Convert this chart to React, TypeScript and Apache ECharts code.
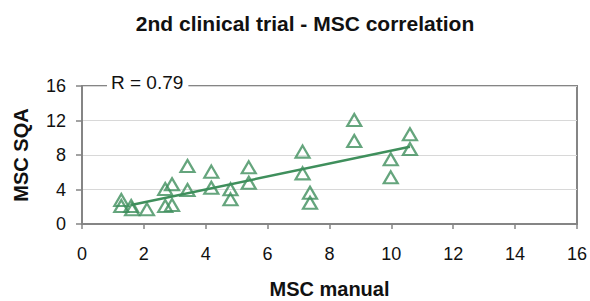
import React, { useEffect, useRef } from "react";
import * as echarts from "echarts";

const titleText = "2nd clinical trial - MSC correlation";
const xName = "MSC manual";
const yName = "MSC SQA";
const rLabel = "R = 0.79";

const mscManual = [1.27, 1.27, 1.59, 1.62, 2.1, 2.69, 2.69, 2.91, 2.91, 3.41, 3.41, 4.18, 4.18, 4.8, 4.8, 5.39, 5.39, 7.13, 7.13, 7.37, 7.37, 8.8, 8.8, 9.98, 9.98, 10.6, 10.6];
const mscSqa = [2.78, 2.09, 2.09, 1.7, 1.7, 4.06, 2.09, 4.6, 2.2, 6.72, 3.94, 6.07, 4.21, 4.02, 2.86, 6.57, 4.79, 8.39, 5.87, 3.63, 2.47, 12.06, 9.62, 7.5, 5.41, 10.4, 8.7];

const trendX = [1.59, 10.6];
const trendY = [2.2, 8.96];

const green = "#3f8f5c";

export default function App() {
  const ref = useRef<HTMLDivElement>(null);
  useEffect(() => {
    if (!ref.current) return;
    const chart = echarts.init(ref.current, undefined, { renderer: "svg" });
    const pts = mscManual.map((x, i) => [x, mscSqa[i]]);
    const trend = trendX.map((x, i) => [x, trendY[i]]);
    const font = "Liberation Sans, Arial, sans-serif";
    chart.setOption({
      animation: false,
      backgroundColor: "#ffffff",
      title: {
        text: titleText,
        left: 300,
        textAlign: "center",
        top: 8,
        textStyle: { fontFamily: font, fontSize: 21, fontWeight: "bold", color: "#111" },
      },
      grid: { left: 82, right: 12, top: 86, bottom: 77, show: true, borderColor: "#858585", borderWidth: 2, backgroundColor: "transparent" },
      xAxis: {
        type: "value",
        min: 0,
        max: 16,
        interval: 2,
        name: xName,
        nameLocation: "middle",
        nameGap: 55,
        nameTextStyle: { fontFamily: font, fontSize: 20, fontWeight: "bold", color: "#111" },
        axisLine: { show: true, onZero: false, lineStyle: { color: "#858585", width: 2 } },
        axisTick: { show: true, inside: false, length: 5, lineStyle: { color: "#858585", width: 1.5 } },
        axisLabel: { fontFamily: font, fontSize: 18, color: "#111", margin: 21 },
        splitLine: { show: false },
      },
      yAxis: {
        type: "value",
        min: 0,
        max: 16,
        interval: 4,
        name: yName,
        nameLocation: "middle",
        nameGap: 51,
        nameTextStyle: { fontFamily: font, fontSize: 20, fontWeight: "bold", color: "#111" },
        axisLine: { show: true, onZero: false, lineStyle: { color: "#858585", width: 2 } },
        axisTick: { show: true, inside: false, length: 6, lineStyle: { color: "#858585", width: 1.5 } },
        axisLabel: { fontFamily: font, fontSize: 18, color: "#111", margin: 16 },
        splitLine: { show: true, lineStyle: { color: "#d8d8d8", width: 1 } },
      },
      series: [
        {
          type: "line",
          data: trend,
          showSymbol: false,
          symbol: "none",
          lineStyle: { color: green, width: 2.5 },
          silent: true,
          z: 2,
        },
        {
          type: "scatter",
          data: pts,
          symbol: "triangle",
          symbolSize: [14, 12],
          itemStyle: { color: "rgba(255,255,255,0)", borderColor: green, borderWidth: 2.2 },
          z: 3,
        },
      ],
      graphic: [
        {
          type: "text",
          left: 107,
          top: 73,
          z: 100,
          style: {
            text: rLabel,
            fontFamily: font,
            fontSize: 19,
            fill: "#111",
            backgroundColor: "#ffffff",
            padding: [0, 5, 0, 4],
          },
        },
      ],
    });
    return () => chart.dispose();
  }, []);
  return <div ref={ref} style={{ width: 590, height: 301, position: "absolute", left: 0, top: 0 }} />;
}
